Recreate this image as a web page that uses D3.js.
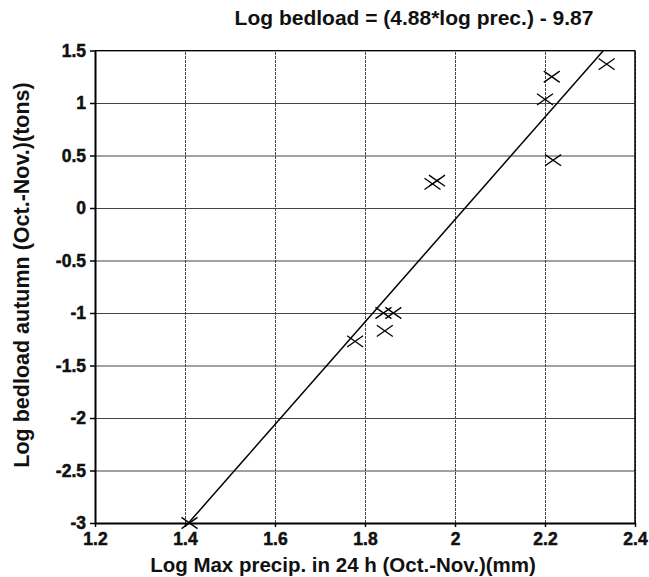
<!DOCTYPE html>
<meta charset="utf-8">
<style type="text/css">
    body { margin: 0; background: #fff; }
    svg text { font-family: "Liberation Sans", Arial, sans-serif; font-weight: bold; fill: #111; }
    .grid line { stroke: #444; stroke-width: 1; }
    .grid .domain { display: none; }
    .axis .domain { stroke: #000; stroke-width: 2; }
    .axis line { stroke: #000; stroke-width: 1.5; }
    .axis text { font-weight: 700; font-size: 17.5px; stroke: #111; stroke-width: 0.5px; }
</style>
<body></body>
<script src="https://d3js.org/d3.v7.min.js"></script>
<script>
    // observed points (log max precip, log bedload)
    var precip = [1.41, 1.778, 1.841, 1.863, 1.844, 1.95, 1.96, 2.2, 2.215, 2.218, 2.337];
    var bedload = [-3.0, -1.27, -1.0, -1.0, -1.17, 0.23, 0.26, 1.035, 1.25, 0.455, 1.37];

    // fitted line: log bedload = 4.88 * log prec - 9.87
    var slope = 4.88, intercept = -9.87;

    var xTicks = [1.2, 1.4, 1.6, 1.8, 2, 2.2, 2.4];
    var yTicks = [1.5, 1, 0.5, 0, -0.5, -1, -1.5, -2, -2.5, -3];

    var margin = {top: 50.5, right: 14, bottom: 54, left: 95},
        width = 649 - margin.left - margin.right,
        height = 577 - margin.top - margin.bottom;

    var svg = d3.select("body").append("svg")
        .attr("width", 649)
        .attr("height", 577);

    var g = svg.append("g")
        .attr("transform", "translate(" + margin.left + "," + margin.top + ")");

    var x = d3.scaleLinear().domain([1.2, 2.4]).range([0, width]);
    var y = d3.scaleLinear().domain([-3, 1.5]).range([height, 0]);

    // plain hyphen for negatives, like the original
    var fmt = function (d) { return String(d); };

    // grid
    g.append("g")
        .attr("class", "grid")
        .attr("transform", "translate(0," + height + ")")
        .call(d3.axisBottom(x).tickValues(xTicks).tickSize(-height).tickFormat(""))
        .selectAll("line").attr("stroke-dasharray", "3,1");

    g.append("g")
        .attr("class", "grid")
        .call(d3.axisLeft(y).tickValues(yTicks).tickSize(-width).tickFormat(""));

    // frame top & right
    g.append("line").attr("x1", 0).attr("x2", width).attr("y1", 0).attr("y2", 0)
        .attr("stroke", "#000").attr("stroke-width", 1.2);
    g.append("line").attr("x1", width).attr("x2", width).attr("y1", 0).attr("y2", height)
        .attr("stroke", "#000").attr("stroke-width", 1.5);

    // axes
    var xAxis = g.append("g")
        .attr("class", "axis")
        .attr("transform", "translate(0," + height + ")")
        .call(d3.axisBottom(x).tickValues(xTicks).tickSizeInner(4).tickSizeOuter(0).tickFormat(fmt));
    xAxis.selectAll("text").attr("dy", "0.85em");

    var yAxis = g.append("g")
        .attr("class", "axis")
        .call(d3.axisLeft(y).tickValues(yTicks).tickSizeInner(5).tickSizeOuter(0).tickFormat(fmt));
    yAxis.selectAll("text").attr("dx", "-1px");

    // regression line, clipped to plot
    g.append("clipPath").attr("id", "clip")
        .append("rect").attr("width", width).attr("height", height);

    var line = d3.line()
        .x(function (d) { return x(d); })
        .y(function (d) { return y(slope * d + intercept); });

    g.append("path")
        .datum(x.domain())
        .attr("clip-path", "url(#clip)")
        .attr("fill", "none")
        .attr("stroke", "#000")
        .attr("stroke-width", 1.5)
        .attr("d", line);

    // crosses
    var s = 8;
    var pts = precip.map(function (p, i) { return [p, bedload[i]]; });
    g.selectAll(".pt")
        .data(pts)
        .enter().append("path")
        .attr("class", "pt")
        .attr("fill", "none")
        .attr("stroke", "#000")
        .attr("stroke-width", 1.3)
        .attr("d", function (d) {
            var cx = x(d[0]), cy = y(d[1]);
            return "M" + (cx - s) + "," + (cy - s * 0.7) + "L" + (cx + s) + "," + (cy + s * 0.7) +
                "M" + (cx - s) + "," + (cy + s * 0.7) + "L" + (cx + s) + "," + (cy - s * 0.7);
        });

    // titles
    svg.append("text")
        .attr("x", 414)
        .attr("y", 25)
        .attr("text-anchor", "middle")
        .style("font-size", "21px")
        .text("Log bedload = (4.88*log prec.) - 9.87");

    svg.append("text")
        .attr("x", 343)
        .attr("y", 572)
        .attr("text-anchor", "middle")
        .style("font-size", "20.5px")
        .text("Log Max precip. in 24 h (Oct.-Nov.)(mm)");

    svg.append("text")
        .attr("transform", "rotate(-90)")
        .attr("x", -275)
        .attr("y", 29)
        .attr("text-anchor", "middle")
        .style("font-size", "21.5px")
        .text("Log bedload autumn (Oct.-Nov.)(tons)");
</script>
